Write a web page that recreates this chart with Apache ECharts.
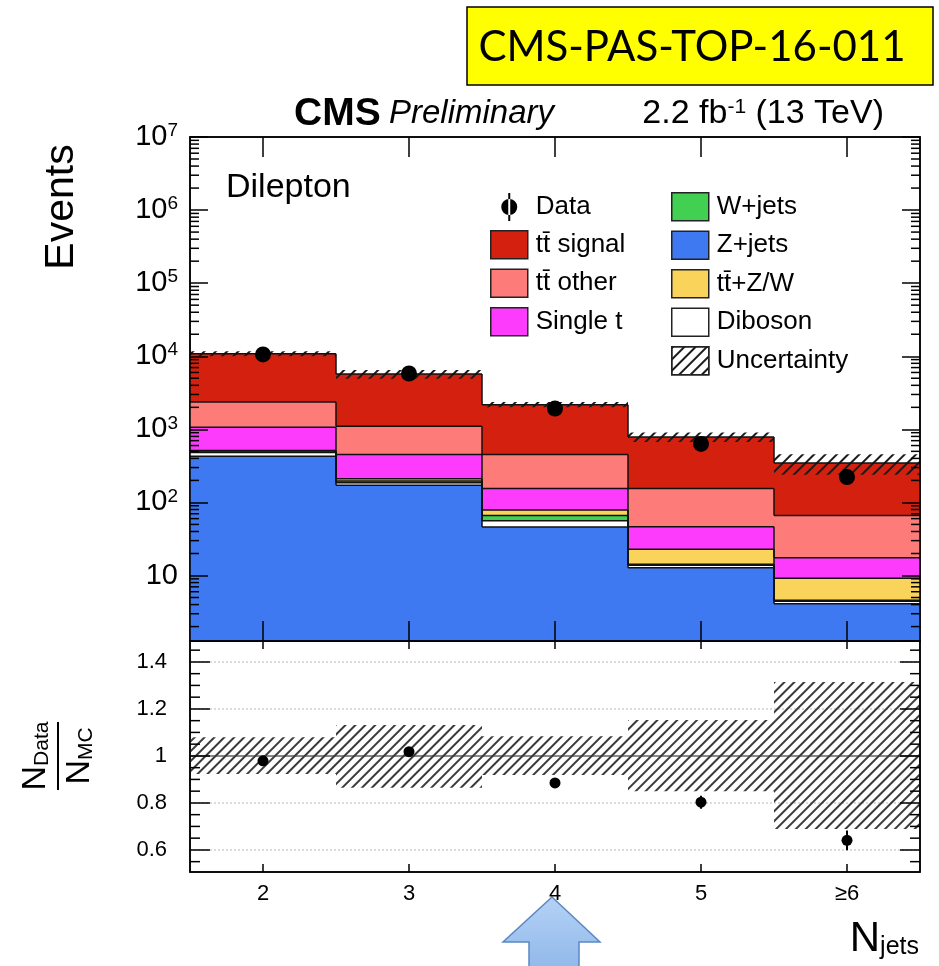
<!DOCTYPE html>
<html>
<head>
<meta charset="utf-8">
<script src="https://cdn.jsdelivr.net/npm/echarts@6/dist/echarts.min.js"></script>
<style>
  html, body { margin: 0; padding: 0; background: #fff; }
  #chart { width: 939px; height: 966px; }
</style>
</head>
<body>
<div id="chart"></div>
<script>
// Jet multiplicity bins
const categories = ['2', '3', '4', '5', '≥6'];

// Simulated yields per bin (events), listed bottom to top of the stack
const zJets    = [427, 172, 46, 12.8, 4.1];
const diboson  = [55, 14, 10, 1.0, 0.35];
const wJets    = [22, 10, 10, 0.5, 0.15];
const ttV      = [8, 14, 13, 8.6, 4.6];
const singleT  = [552, 241, 76, 23.5, 8.3];
const ttOther  = [1302, 648, 296, 108.6, 48.6];
const ttSignal = [8454, 4611, 1724, 632, 281];

// Observed events and their statistical errors
const dataEvents = [10590, 5810, 1925, 632, 222];
const dataErrors = [103, 76, 44, 25, 15];

// Data / MC ratio with errors
const ratio    = [0.979, 1.018, 0.885, 0.803, 0.641];
const ratioErr = [0.008, 0.012, 0.018, 0.028, 0.042];

// Relative systematic uncertainty on the prediction (up / down)
const uncUp   = [0.079, 0.132, 0.084, 0.153, 0.314];
const uncDown = [0.077, 0.136, 0.081, 0.150, 0.311];

// Axis ranges and tick values
const logMin = 1.27, logMax = 1e7;
const ratioMin = 0.506, ratioMax = 1.489;
const ratioMajorTicks = [0.6, 0.8, 1.0, 1.2, 1.4];
const ratioMinorTicks = [0.55, 0.65, 0.7, 0.75, 0.85, 0.9, 0.95, 1.05, 1.1, 1.15, 1.25, 1.3, 1.35, 1.45];
const logMinorMultipliers = [2, 3, 4, 5, 6, 7, 8, 9];

const FONT = 'Liberation Sans';

const components = [
  { name: 'Z+jets',    values: zJets,    color: '#3f79f2' },
  { name: 'Diboson',   values: diboson,  color: '#ffffff' },
  { name: 'W+jets',    values: wJets,    color: '#41d051' },
  { name: 'tt\u0304+Z/W', values: ttV,   color: '#fad35a' },
  { name: 'Single t',  values: singleT,  color: '#fd3bfd' },
  { name: 'tt\u0304 other',  values: ttOther,  color: '#fd7c7a' },
  { name: 'tt\u0304 signal', values: ttSignal, color: '#d4210f' }
];

// cumulative stack levels, one array per component
const levels = [];
components.forEach((c, k) => {
  levels.push(c.values.map((v, i) => v + (k > 0 ? levels[k - 1][i] : 0)));
});
const totals = levels[levels.length - 1];

const logMinorValues = [];
for (let n = 0; n < 7; n++) {
  logMinorMultipliers.forEach(m => {
    const v = m * Math.pow(10, n);
    if (v > logMin && v < logMax) logMinorValues.push(v);
  });
}

function hatchPattern(gap, color) {
  return {
    symbol: 'rect',
    symbolSize: 1,
    color: color,
    dashArrayX: [1, 0],
    dashArrayY: [1.1, gap],
    rotation: -Math.PI / 4
  };
}

const lineStyle = { stroke: '#111', lineWidth: 1.5 };

function stepOutline(params, api) {
  const i = params.dataIndex;
  const w = api.size([1, 0])[0];
  const cx = api.coord([i, totals[i]])[0];
  const x0 = cx - w / 2, x1 = cx + w / 2;
  const children = [];
  levels.forEach(lv => {
    const y = api.coord([i, lv[i]])[1];
    children.push({ type: 'line', shape: { x1: x0, y1: y, x2: x1, y2: y }, style: lineStyle });
    if (i > 0) {
      const yp = api.coord([i - 1, lv[i - 1]])[1];
      children.push({ type: 'line', shape: { x1: x0, y1: yp, x2: x0, y2: y }, style: lineStyle });
    }
  });
  return { type: 'group', children };
}

function errorBar(values, errors) {
  return function (params, api) {
    const i = params.dataIndex;
    const top = api.coord([i, values[i] + errors[i]]);
    const bot = api.coord([i, values[i] - errors[i]]);
    return {
      type: 'line',
      shape: { x1: top[0], y1: top[1], x2: bot[0], y2: bot[1] },
      style: { stroke: '#000', lineWidth: 2 }
    };
  };
}

function minorTicks(len) {
  return function (params, api) {
    const cs = params.coordSys;
    const y = api.coord([0, api.value(1)])[1];
    return {
      type: 'group',
      children: [
        { type: 'line', shape: { x1: cs.x, y1: y, x2: cs.x + len, y2: y }, style: { stroke: '#000', lineWidth: 1.5 } },
        { type: 'line', shape: { x1: cs.x + cs.width - len, y1: y, x2: cs.x + cs.width, y2: y }, style: { stroke: '#000', lineWidth: 1.5 } }
      ]
    };
  };
}

const axisLineStyle = { show: true, lineStyle: { color: '#000', width: 1.5 } };
const tickStyle = { color: '#000', width: 1.5 };

function catAxis(gridIndex, position, tickLen, showLabels) {
  return {
    type: 'category', gridIndex, position, data: categories, boundaryGap: true, z: 10,
    axisLine: axisLineStyle,
    axisTick: { show: true, inside: true, alignWithLabel: true, length: tickLen, lineStyle: tickStyle },
    axisLabel: showLabels
      ? { show: true, margin: 11, fontFamily: FONT, fontSize: 22, color: '#000' }
      : { show: false },
    splitLine: { show: false }
  };
}

function logAxis(position, showLabels) {
  return {
    type: 'log', logBase: 10, gridIndex: 0, position, min: logMin, max: logMax, z: 10,
    axisLine: axisLineStyle,
    axisTick: { show: true, inside: true, length: 18, lineStyle: tickStyle },
    axisLabel: showLabels ? {
      show: true, margin: 12, showMinLabel: false, showMaxLabel: true,
      fontFamily: FONT, fontSize: 29, color: '#000',
      formatter: v => {
        const n = Math.round(Math.log10(v));
        return n === 1 ? '10' : '10{sup|' + n + '}';
      },
      rich: { sup: { fontFamily: FONT, fontSize: 19, color: '#000', verticalAlign: 'top', padding: [0, 0, 12, 0] } }
    } : { show: false },
    splitLine: { show: false }
  };
}

function ratioAxis(position, showLabels) {
  return {
    type: 'value', gridIndex: 1, position, min: ratioMin, max: ratioMax, z: 10,
    axisLine: axisLineStyle,
    axisTick: { show: true, inside: true, length: 20, customValues: ratioMajorTicks, lineStyle: tickStyle },
    axisLabel: showLabels ? {
      show: true, margin: 23, customValues: ratioMajorTicks,
      fontFamily: FONT, fontSize: 22, color: '#000',
      formatter: v => (Math.abs(v - 1) < 1e-9 ? '1' : v.toFixed(1))
    } : { show: false },
    splitLine: { show: false }
  };
}

const barCommon = { barGap: '-100%', barCategoryGap: '0%', clip: true, silent: true };

const series = [];

// stacked predictions
components.forEach(c => {
  series.push(Object.assign({
    type: 'bar', name: c.name, stack: 'mc', xAxisIndex: 0, yAxisIndex: 0,
    data: c.values, itemStyle: { color: c.color }, z: 2
  }, barCommon));
});

// uncertainty band on the stack
series.push(Object.assign({
  type: 'bar', name: 'bandBase', stack: 'unc', xAxisIndex: 0, yAxisIndex: 0,
  data: totals.map((t, i) => t * (1 - uncDown[i])),
  itemStyle: { color: 'rgba(0,0,0,0)' }, z: 3
}, barCommon));
series.push(Object.assign({
  type: 'bar', name: 'Uncertainty', stack: 'unc', xAxisIndex: 0, yAxisIndex: 0,
  data: totals.map((t, i) => t * (uncUp[i] + uncDown[i])),
  itemStyle: { color: 'rgba(0,0,0,0)', decal: hatchPattern(5.5, '#1a1a1a') }, z: 3
}, barCommon));

// step outlines of each stack level
series.push({
  type: 'custom', name: 'outline', xAxisIndex: 0, yAxisIndex: 0, silent: true, z: 4,
  data: totals.map((t, i) => [i, t]), encode: { x: 0, y: 1 },
  renderItem: stepOutline
});

// log-axis minor ticks
series.push({
  type: 'custom', name: 'logMinor', xAxisIndex: 0, yAxisIndex: 0, silent: true, z: 11,
  data: logMinorValues.map(v => [0, v]), encode: { x: 0, y: 1 },
  renderItem: minorTicks(9)
});

// data points
series.push({
  type: 'custom', name: 'dataErr', xAxisIndex: 0, yAxisIndex: 0, silent: true, z: 6,
  data: dataEvents.map((v, i) => [i, v]), encode: { x: 0, y: 1 },
  renderItem: errorBar(dataEvents, dataErrors)
});
series.push({
  type: 'scatter', name: 'Data', xAxisIndex: 0, yAxisIndex: 0, silent: true, z: 7,
  data: dataEvents.map((v, i) => [i, v]), symbol: 'circle', symbolSize: 16,
  itemStyle: { color: '#000', opacity: 1 }
});

// ratio panel: uncertainty band, reference lines
series.push(Object.assign({
  type: 'bar', name: 'ratioBandBase', stack: 'runc', xAxisIndex: 2, yAxisIndex: 2,
  data: uncDown.map(d => 1 - d),
  itemStyle: { color: 'rgba(0,0,0,0)' }, z: 3,
  markLine: {
    silent: true, symbol: 'none', label: { show: false }, z: 1,
    data: [
      { yAxis: 0.6, lineStyle: { color: '#cfcfcf', type: [2, 2], width: 1.5 } },
      { yAxis: 0.8, lineStyle: { color: '#cfcfcf', type: [2, 2], width: 1.5 } },
      { yAxis: 1.2, lineStyle: { color: '#cfcfcf', type: [2, 2], width: 1.5 } },
      { yAxis: 1.4, lineStyle: { color: '#cfcfcf', type: [2, 2], width: 1.5 } },
      { yAxis: 1.0, lineStyle: { color: '#8a8a8a', type: 'solid', width: 2.2 } }
    ]
  }
}, barCommon));
series.push(Object.assign({
  type: 'bar', name: 'ratioBand', stack: 'runc', xAxisIndex: 2, yAxisIndex: 2,
  data: uncUp.map((u, i) => u + uncDown[i]),
  itemStyle: { color: 'rgba(0,0,0,0)', decal: hatchPattern(4.4, '#3a3a3a') }, z: 3
}, barCommon));

// ratio panel minor ticks
series.push({
  type: 'custom', name: 'ratioMinor', xAxisIndex: 2, yAxisIndex: 2, silent: true, z: 11,
  data: ratioMinorTicks.map(v => [0, v]), encode: { x: 0, y: 1 },
  renderItem: minorTicks(10)
});

// ratio points
series.push({
  type: 'custom', name: 'ratioErrBars', xAxisIndex: 2, yAxisIndex: 2, silent: true, z: 6,
  data: ratio.map((v, i) => [i, v]), encode: { x: 0, y: 1 },
  renderItem: errorBar(ratio, ratioErr)
});
series.push({
  type: 'scatter', name: 'Ratio', xAxisIndex: 2, yAxisIndex: 2, silent: true, z: 7,
  data: ratio.map((v, i) => [i, v]), symbol: 'circle', symbolSize: 11,
  itemStyle: { color: '#000', opacity: 1 }
});

const legendText = { fontFamily: FONT, fontSize: 26, color: '#000', lineHeight: 28, padding: [0, 0, 0, 3] };
const dataIcon = 'path://M17.5,0h2v28h-2z M10.5,14a8,8 0 1,0 16,0a8,8 0 1,0 -16,0z';

const option = {
  animation: false,
  backgroundColor: '#fff',
  grid: [
    { left: 190, top: 137, width: 730, height: 504, show: true, borderColor: '#000', borderWidth: 1.5, backgroundColor: 'transparent', containLabel: false, outerBoundsMode: 'none' },
    { left: 190, top: 641, width: 730, height: 231, show: true, borderColor: '#000', borderWidth: 1.5, backgroundColor: 'transparent', containLabel: false, outerBoundsMode: 'none' }
  ],
  xAxis: [
    catAxis(0, 'bottom', 20, false),
    catAxis(0, 'top', 20, false),
    catAxis(1, 'bottom', 8, true),
    catAxis(1, 'top', 8, false)
  ],
  yAxis: [
    logAxis('left', true),
    logAxis('right', false),
    ratioAxis('left', true),
    ratioAxis('right', false)
  ],
  legend: [
    {
      orient: 'vertical', left: 490, top: 193, padding: 0, itemWidth: 37, itemHeight: 28, itemGap: 9,
      selectedMode: false, textStyle: legendText,
      itemStyle: { borderColor: '#222', borderWidth: 1.5 },
      data: [
        { name: 'Data', icon: dataIcon, itemStyle: { borderWidth: 0, color: '#000', opacity: 1 } },
        { name: 'tt\u0304 signal', icon: 'rect' },
        { name: 'tt\u0304 other', icon: 'rect' },
        { name: 'Single t', icon: 'rect' }
      ]
    },
    {
      orient: 'vertical', left: 671, top: 192, padding: 0, itemWidth: 37, itemHeight: 28, itemGap: 9,
      selectedMode: false, textStyle: legendText,
      itemStyle: { borderColor: '#222', borderWidth: 1.5 },
      data: [
        { name: 'W+jets', icon: 'rect' },
        { name: 'Z+jets', icon: 'rect' },
        { name: 'tt\u0304+Z/W', icon: 'rect' },
        { name: 'Diboson', icon: 'rect' },
        { name: 'Uncertainty', icon: 'rect' }
      ]
    }
  ],
  graphic: [
    // document reference tag
    { type: 'rect', shape: { x: 467, y: 7, width: 466, height: 78 }, style: { fill: '#ffff00', stroke: '#000', lineWidth: 1.5 } },
    { type: 'text', x: 692, y: 47, style: { text: 'CMS-PAS-TOP-16-011', font: '42px Lato', fill: '#000', textAlign: 'center', textVerticalAlign: 'middle' } },
    // header
    { type: 'text', x: 294, y: 114, style: { text: 'CMS', font: 'bold 39px "Liberation Sans"', fill: '#000', textAlign: 'left', textVerticalAlign: 'middle' } },
    { type: 'text', x: 389, y: 114, style: { text: 'Preliminary', font: 'italic 33px "Liberation Sans"', fill: '#000', textAlign: 'left', textVerticalAlign: 'middle' } },
    { type: 'text', x: 884, y: 114, style: {
        text: '2.2 fb{sup|-1} (13 TeV)', font: '34px "Liberation Sans"', fill: '#000', textAlign: 'right', textVerticalAlign: 'middle',
        rich: { sup: { fontFamily: FONT, fontSize: 21, fill: '#000', verticalAlign: 'top' } }
      } },
    { type: 'text', x: 226, y: 188, style: { text: 'Dilepton', font: '34px "Liberation Sans"', fill: '#000', textAlign: 'left', textVerticalAlign: 'middle' } },
    // axis titles
    { type: 'text', x: 62, y: 207, rotation: Math.PI / 2, style: { text: 'Events', font: '41px "Liberation Sans"', fill: '#000', textAlign: 'center', textVerticalAlign: 'middle' } },
    {
      type: 'group', x: 58, y: 756, rotation: Math.PI / 2,
      children: [
        { type: 'text', x: 0, y: -22, style: { text: '{n|N}{s|Data}', textAlign: 'center', textVerticalAlign: 'middle', fill: '#000',
            rich: { n: { fontFamily: FONT, fontSize: 34, fill: '#000', verticalAlign: 'top' }, s: { fontFamily: FONT, fontSize: 21, fill: '#000', verticalAlign: 'bottom' } } } },
        { type: 'line', shape: { x1: -34, y1: 0, x2: 34, y2: 0 }, style: { stroke: '#000', lineWidth: 2 } },
        { type: 'text', x: 0, y: 22, style: { text: '{n|N}{s|MC}', textAlign: 'center', textVerticalAlign: 'middle', fill: '#000',
            rich: { n: { fontFamily: FONT, fontSize: 34, fill: '#000', verticalAlign: 'top' }, s: { fontFamily: FONT, fontSize: 21, fill: '#000', verticalAlign: 'bottom' } } } }
      ]
    },
    { type: 'text', x: 919, y: 939, style: { text: '{n|N}{s|jets}', textAlign: 'right', textVerticalAlign: 'middle', fill: '#000',
        rich: { n: { fontFamily: FONT, fontSize: 42, fill: '#000', verticalAlign: 'top' }, s: { fontFamily: FONT, fontSize: 25, fill: '#000', verticalAlign: 'bottom' } } } },
    // pointer arrow under the 4-jet bin
    { type: 'polygon', shape: { points: [[552, 897], [600, 942], [579, 942], [579, 970], [529, 970], [529, 942], [503, 942]] },
      style: { fill: new echarts.graphic.LinearGradient(0, 0, 0, 1, [{ offset: 0, color: '#b5d2f5' }, { offset: 1, color: '#8fb8ea' }]), stroke: '#5b88c2', lineWidth: 1.5 } }
  ],
  series
};

const chart = echarts.init(document.getElementById('chart'), null, { renderer: 'canvas' });
chart.setOption(option);
</script>
</body>
</html>
